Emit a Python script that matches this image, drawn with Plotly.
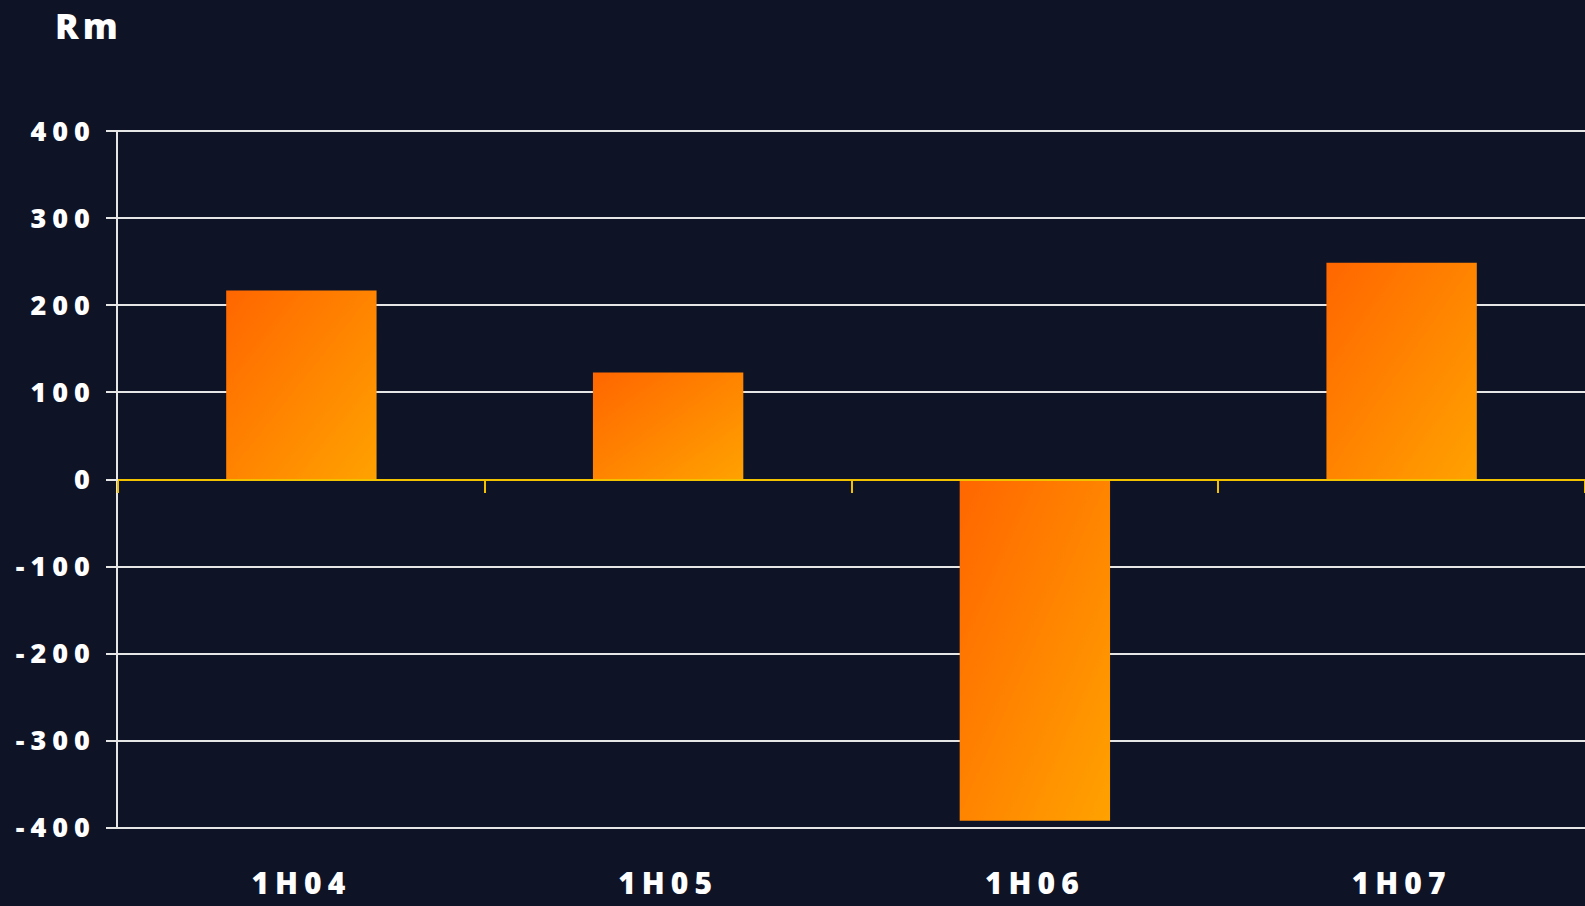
import plotly.graph_objects as go

categories = ["1H04", "1H05", "1H06", "1H07"]
values = [217, 123, -392, 249]
y_ticks = [-400, -300, -200, -100, 0, 100, 200, 300, 400]
title_text = "Rm"

BG = "#0f1326"
GOLD = "#f2c200"
GRID = "#e6e6e6"
FONT = "Open Sans"


def spaced(s, px):
    return f'<span style="letter-spacing:{px}px">{s}</span>'


fig = go.Figure()
fig.add_trace(go.Bar(
    x=categories, y=values,
    marker=dict(color="#ff8200", line=dict(width=0)),
    hoverinfo="skip",
))
# helper (invisible) trace so the zero-line category axis gets boundary ticks
fig.add_trace(go.Scatter(
    x=categories, y=values, xaxis="x2", mode="markers",
    marker=dict(opacity=0), hoverinfo="skip", showlegend=False,
))

fig.update_layout(
    width=1585, height=906,
    margin=dict(l=118, r=0, t=130, b=77),
    paper_bgcolor=BG, plot_bgcolor=BG,
    showlegend=False,
    bargap=0.59,
    font=dict(family=FONT, color="white"),
    xaxis=dict(
        type="category", categoryorder="array", categoryarray=categories,
        range=[-0.5, 3.5], automargin=False,
        tickvals=categories,
        ticktext=[spaced(c, 6) for c in categories],
        showgrid=False, zeroline=False, showline=False, ticks="",
        tickfont=dict(family=FONT, size=30, color="white", weight=800),
        ticklabelstandoff=34,
    ),
    xaxis2=dict(
        type="category", categoryorder="array", categoryarray=categories,
        range=[-0.5, 3.5], automargin=False,
        overlaying="x", anchor="free", position=0.5,
        showline=True, linecolor=GOLD, linewidth=2,
        ticks="outside", tickson="boundaries", ticklen=12, tickcolor=GOLD, tickwidth=1.5,
        showticklabels=False, showgrid=False, zeroline=False,
    ),
    yaxis=dict(
        range=[-401.5, 401.5], automargin=False,
        tickvals=y_ticks,
        ticktext=[spaced(str(v), 6) for v in y_ticks],
        showgrid=True, gridcolor=GRID, gridwidth=1.5,
        zeroline=True, zerolinecolor=GOLD, zerolinewidth=2,
        showline=True, linecolor=GRID, linewidth=1.5,
        ticks="outside", ticklen=10, tickcolor=GRID, tickwidth=1.5,
        tickfont=dict(family=FONT, size=27, color="white", weight=800),
        ticklabelstandoff=5,
    ),
    annotations=[dict(
        text=spaced(title_text, 4), xref="paper", yref="paper",
        x=-0.044, y=1.1488, xanchor="left", yanchor="middle", showarrow=False,
        font=dict(family=FONT, size=35, color="white", weight=800),
    )],
)

post = """
var gd = document.getElementById('{plot_id}');
function applyGrad(){
  var svg = gd.querySelector('svg.main-svg');
  var ns = 'http://www.w3.org/2000/svg';
  var defs = svg.querySelector('defs');
  if(!defs){ defs = document.createElementNS(ns,'defs'); svg.insertBefore(defs, svg.firstChild); }
  if(!svg.querySelector('#barGrad')){
    var g = document.createElementNS(ns,'linearGradient');
    g.setAttribute('id','barGrad');
    g.setAttribute('x1','0'); g.setAttribute('y1','0');
    g.setAttribute('x2','1'); g.setAttribute('y2','1');
    var s1 = document.createElementNS(ns,'stop'); s1.setAttribute('offset','0'); s1.setAttribute('stop-color','#ff6600');
    var s2 = document.createElementNS(ns,'stop'); s2.setAttribute('offset','1'); s2.setAttribute('stop-color','#ffa200');
    g.appendChild(s1); g.appendChild(s2); defs.appendChild(g);
  }
  gd.querySelectorAll('.trace.bars .point path').forEach(function(p){ p.style.fill = 'url(#barGrad)'; p.style.fillOpacity = 1; });
}
applyGrad();
gd.on('plotly_afterplot', applyGrad);
"""

fig.write_html("out.html", post_script=post)
